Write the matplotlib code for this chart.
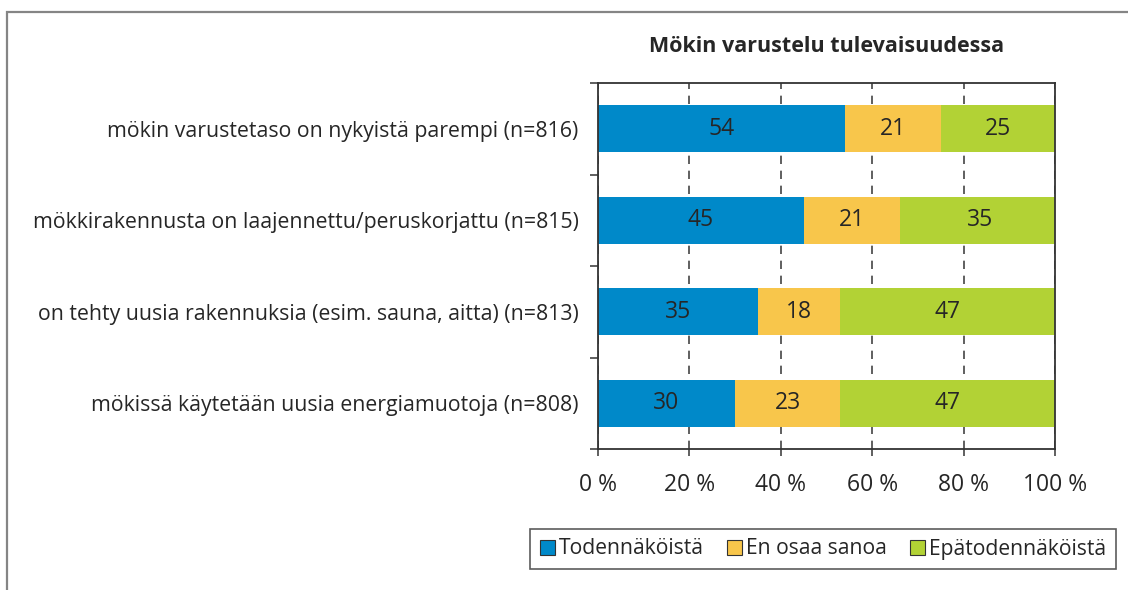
import matplotlib.pyplot as plt
import matplotlib.patches as mpatches
import numpy as np

plt.rcParams['font.family'] = ['Open Sans', 'DejaVu Sans']

categories = [
    "mökin varustetaso on nykyistä parempi (n=816)",
    "mökkirakennusta on laajennettu/peruskorjattu (n=815)",
    "on tehty uusia rakennuksia (esim. sauna, aitta) (n=813)",
    "mökissä käytetään uusia energiamuotoja (n=808)",
]
series_names = ["Todennäköistä", "En osaa sanoa", "Epätodennäköistä"]
todennakoista = [54, 45, 35, 30]
en_osaa = [21, 21, 18, 23]
epatodennakoista = [25, 35, 47, 47]
x_ticks = [0, 20, 40, 60, 80, 100]
x_labels = ["0 %", "20 %", "40 %", "60 %", "80 %", "100 %"]
title = "Mökin varustelu tulevaisuudessa"

colors = ["#0089C9", "#F8C64B", "#B2D235"]
text_color = "#262626"

fig = plt.figure(figsize=(11.28, 5.9), dpi=100)
ax = fig.add_axes([598 / 1128, 1 - 449 / 590, (1055 - 598) / 1128, (449 - 83) / 590])

# outer frame of the figure
frame = mpatches.Rectangle((7 / 1128, -0.2), 2, 1 - 12 / 590 + 0.2, transform=fig.transFigure,
                           fill=False, edgecolor="#858585", linewidth=1.6, clip_on=False)
fig.patches.append(frame)

y = np.arange(len(categories))
left = np.zeros(len(categories))
for name, vals, col in zip(series_names, [todennakoista, en_osaa, epatodennakoista], colors):
    vals = np.array(vals)
    ax.barh(y, vals, left=left, height=0.51, color=col, label=name, zorder=2)
    for yi, l, v in zip(y, left, vals):
        ax.text(l + v / 2, yi, str(v), ha="center", va="center", fontsize=16.5, color=text_color, zorder=3)
    left = left + vals

ax.set_xlim(0, 100)
ax.set_ylim(len(categories) - 0.5, -0.5)

ax.set_xticks(x_ticks)
ax.set_xticklabels(x_labels, fontsize=16.5, color=text_color)
ax.xaxis.grid(True, linestyle=(0, (5, 4)), color="#444444", linewidth=1.2, zorder=0)
ax.set_axisbelow(True)
ax.tick_params(axis="x", length=5, width=1.2, color="#444444", pad=12, direction="out")

ax.set_yticks(y)
ax.set_yticklabels(categories, fontsize=15.3, color=text_color)
ax.tick_params(axis="y", which="major", length=0, pad=14)
ax.set_yticks(np.arange(-0.5, len(categories) + 0.5, 1), minor=True)
ax.tick_params(axis="y", which="minor", length=6, width=1.2, color="#444444")
ax.tick_params(axis="x", which="minor", bottom=False)

for s in ax.spines.values():
    s.set_color("#333333")
    s.set_linewidth(1.3)

ax.set_title(title, fontsize=15.5, fontweight="bold", color=text_color, pad=22)

leg = fig.legend(loc="center", bbox_to_anchor=(823 / 1128, 1 - 549 / 590), ncol=3,
                 fontsize=15.2, frameon=True, fancybox=False, edgecolor="#333333",
                 handlelength=0.7, handleheight=0.7, handletextpad=0.2, columnspacing=1.1,
                 borderpad=0.45)
leg.get_frame().set_linewidth(1.2)
for h in leg.legend_handles:
    h.set_edgecolor("#333333")
    h.set_linewidth(0.8)
for t in leg.get_texts():
    t.set_color(text_color)

fig.savefig("out.png", dpi=100)
